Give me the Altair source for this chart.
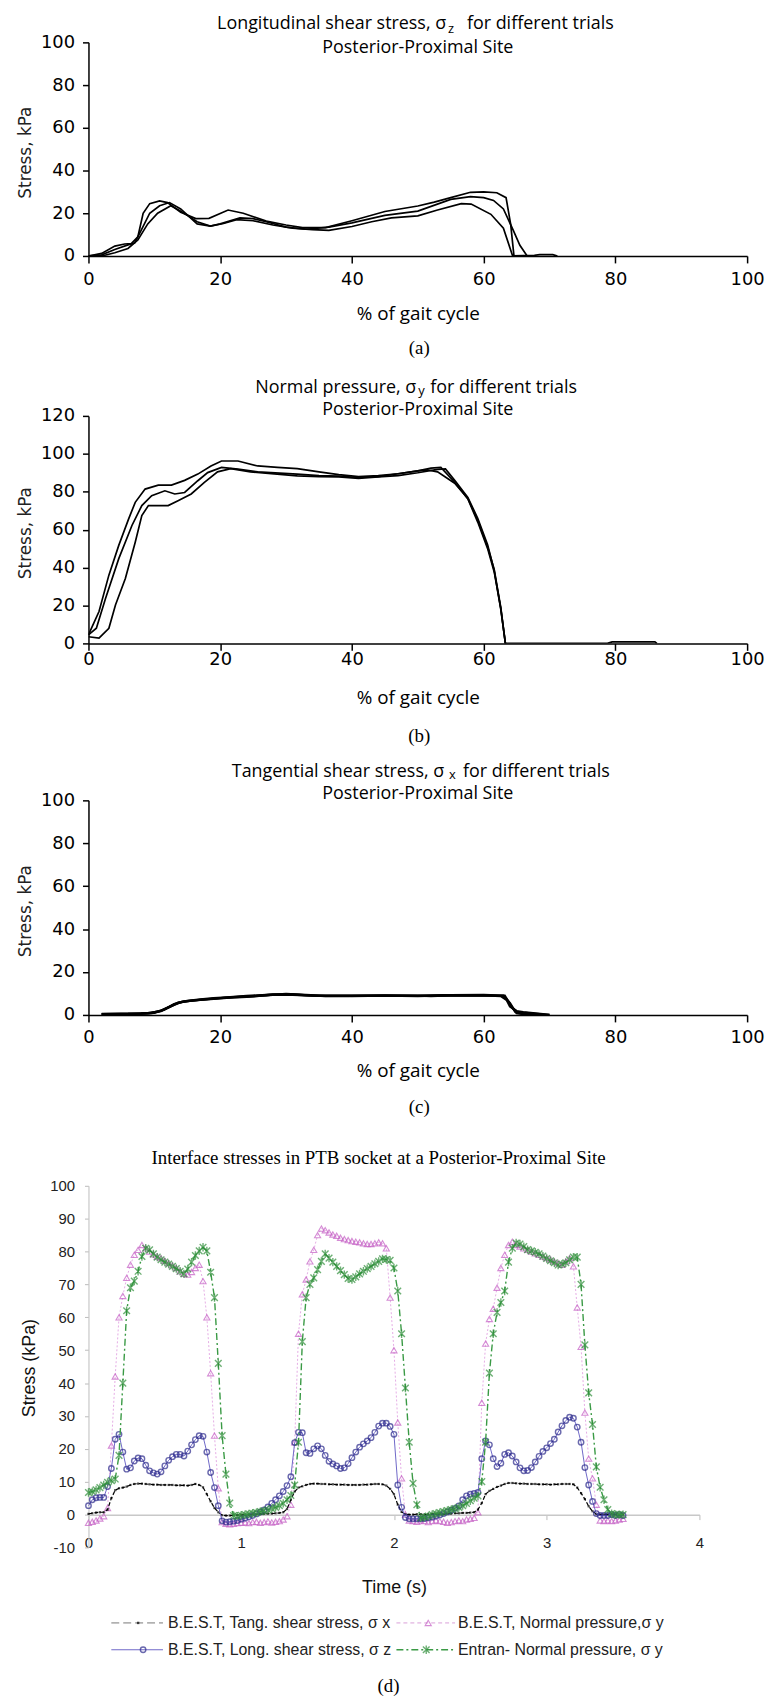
import altair as alt
import numpy as np
import pandas as pd

# ---------------- panel (a): longitudinal shear stress, three trials ----------------
a1_pct = [0, 2, 4, 5.5, 6.5, 7.5, 8.3, 9.3, 10.8, 12, 14, 16.3, 18.3, 21.2, 23.5, 27, 30, 32.5, 36, 40,
          45, 50, 52.5, 55, 58, 60, 62, 63.4, 64.1, 64.6]
a1_kpa = [0, 1.2, 4.6, 5.6, 5.8, 9, 20, 24.5, 25.8, 25, 20.5, 17.5, 17.6, 21.5, 20, 16.3, 14.5, 13.3, 13.3, 16.5,
          20.8, 23.4, 25.2, 27.3, 29.8, 30, 29.6, 27.3, 14.9, 0]
a2_pct = [0, 2, 4, 6, 7, 8, 9.3, 10.8, 12.3, 14, 16.5, 18.5, 20, 23, 25, 27, 30, 33, 36.5, 40,
          45, 50, 55, 58, 60, 61.5, 63, 64.5, 65.5, 66.6]
a2_kpa = [0, 0.5, 3, 5.2, 6, 12, 20, 23.5, 25, 22, 15, 14, 15, 17.8, 17.5, 16, 13.5, 12.5, 13.5, 15.5,
          19, 21, 26.5, 27.8, 27.3, 26, 22, 12, 5, 0]
a3_pct = [0, 2, 4, 6, 7.5, 9, 10.5, 12.5, 14, 16.5, 18.5, 20.5, 22.5, 25, 28, 31, 34, 36.5, 40, 43,
          46, 50, 53, 56.6, 58.1, 61.1, 63, 64.4, 67.7, 68.5, 70.5, 71.2]
a3_kpa = [0, 0, 1.5, 3.5, 7.5, 15, 20, 23.5, 21, 16, 14, 15.2, 17, 16.5, 14.5, 13, 12.3, 12, 13.8, 16,
          17.8, 18.8, 21.5, 24.5, 24.3, 19.5, 13, 0, 0.3, 0.6, 0.6, 0]

# ---------------- panel (b): normal pressure, three trials ----------------
b1_pct = [0, 1.6, 3.1, 4.6, 6.1, 7.1, 8.6, 10.6, 12.6, 14.6, 16.6, 18.6, 20.2, 22.7, 25.7, 28.7, 31.7, 35, 38, 41,
          44, 47, 50, 52, 53.5, 55.6, 57.6, 59.1, 60.6, 61.6, 62.6, 63.3]
b1_kpa = [4.5, 16.8, 36, 51.7, 65.7, 74.4, 81.4, 83.5, 83.5, 86, 89.3, 93.6, 96.2, 96.2, 93.6, 92.8, 92.2, 90.5, 89, 88,
          88.5, 89.5, 91, 92.5, 92.8, 85, 76.2, 64, 50, 37.7, 18.5, 0]
b2_pct = [0, 1.2, 2.6, 4.6, 6.6, 8.1, 9.6, 11.6, 13.1, 14.6, 16.6, 18.1, 20.2, 22.7, 25.7, 31.7, 35, 38, 41, 44,
          47, 50, 51.5, 53, 55.6, 57.6, 59.1, 60.6, 61.6, 62.6, 63.3]
b2_kpa = [4.5, 8, 23.8, 44.7, 62.2, 72.7, 77.9, 80.5, 78.8, 79.6, 85.8, 90.1, 92.8, 91.9, 90.5, 89.3, 88.5, 88.3, 87.5, 88,
          89.5, 91, 91.5, 90.5, 84.5, 76.5, 65, 51, 39, 19, 0]
b3_pct = [0, 1.6, 3.1, 4.1, 5.6, 7.1, 8.1, 9.1, 12.1, 13.6, 15.6, 17.6, 19.6, 21.6, 24.6, 31.7, 35, 38, 41, 44,
          47, 50, 53, 54.2, 55.6, 57.6, 59.1, 60.6, 61.6, 62.6, 63.3, 78.8, 79.5, 86, 86.3]
b3_kpa = [3.5, 2.8, 8, 20.3, 34.2, 53.4, 67.4, 72.7, 72.7, 75.3, 78.8, 84.9, 90.5, 92.2, 90.5, 88.4, 88, 87.8, 87, 87.8,
          88.5, 90, 91.8, 92, 86, 77, 66, 52, 38.5, 18, 0, 0, 0.8, 0.8, 0]

# ---------------- panel (c): tangential shear stress, three trials ----------------
c1_pct = [2, 5, 8, 9.6, 11, 12.5, 13.6, 15, 17, 19, 21, 24, 27, 29, 31, 34, 40, 45, 50, 52,
          55, 60, 62.6, 63.5, 64, 65, 66, 67.5, 69, 70]
c1_kpa = [0.5, 0.6, 0.7, 0.9, 2, 4, 5.7, 6.5, 7.2, 7.8, 8.2, 8.8, 9.3, 9.6, 9.5, 9, 9, 9, 9, 8.8,
          9.1, 9.1, 8.8, 7, 4, 1.8, 1.3, 0.8, 0.3, 0]
c2_pct = [2, 5, 8, 10, 11.5, 13, 14.5, 17, 19, 21, 24, 27, 30, 33, 36, 40, 45, 50, 55, 60,
          63, 64, 64.8, 66, 68, 70]
c2_kpa = [0.3, 0.5, 0.6, 1, 2.5, 5, 6.3, 7, 7.5, 8, 8.5, 9.2, 9.8, 9.3, 8.8, 8.9, 9.1, 8.9, 9.2, 9.3,
          9.0, 5.5, 1.5, 1, 0.5, 0]
c3_pct = [2, 6, 9, 11, 12.8, 14, 16, 19, 22, 25, 28, 31, 35, 40, 45, 50, 54, 60, 63.2, 64.2,
          65, 66.5, 68]
c3_kpa = [0.4, 0.5, 0.8, 1.8, 4.5, 6, 6.8, 7.6, 8.3, 8.7, 9.5, 9.4, 8.9, 8.8, 9, 8.8, 9.2, 9.0, 9.0, 4,
          0.8, 0.2, 0]

# ---------------- panel (d): interface stresses vs time (sampled every 0.025 s) ----------------
d_time = np.round(np.arange(141) * 0.025, 3)
d_tang_x = [0.2, 0.4, 0.6, 0.7, 0.7, 1.5, 5, 7.4, 8, 8.2, 8.5, 9, 9.3, 9.4, 9.4, 9.3, 9.2, 9.1, 9.1, 9.0,
            9.0, 9.0, 9.0, 8.9, 8.9, 8.9, 8.8, 9.0, 9.3, 9.0, 8.3, 6.2, 4, 2, 0.7, -0.2, -0.3, -0.3, -0.2, -0.2,
            -0.1, 0, 0, 0.1, 0.1, 0.2, 0.2, 0.3, 0.3, 0.4, 0.5, 0.7, 1.7, 4.5, 7, 8.2, 8.6, 9.0, 9.3, 9.4,
            9.4, 9.3, 9.3, 9.2, 9.2, 9.1, 9.1, 9.1, 9.0, 9.0, 9.0, 9.0, 9.1, 9.1, 9.2, 9.3, 9.3, 9.2, 8.8, 7.8,
            6.2, 3, 0.8, 0.1, 0, 0, 0.1, 0.1, 0, 0.1, 0.2, 0.2, 0.1, 0.2, 0.3, 0.3, 0.4, 0.4, 0.5, 0.5,
            0.6, 0.7, 1.5, 3.5, 6.2, 7.2, 7.8, 8.4, 8.8, 9.3, 9.6, 9.6, 9.5, 9.4, 9.4, 9.3, 9.3, 9.3, 9.2, 9.2,
            9.2, 9.1, 9.2, 9.2, 9.3, 9.3, 9.3, 9.2, 8.2, 6.5, 4.7, 2.5, 1, 0.2, 0, 0, 0, 0.1, 0, 0, 0]
d_norm_y = [-2.5, -2.2, -1.8, -1.2, -0.5, 2, 21, 42, 60, 66.5, 72, 76, 79, 80.5, 82, 81, 80, 79.2, 78.5, 78,
            77.2, 76.5, 75.8, 75, 74, 73.2, 73, 73.8, 75, 76, 71, 60, 43, 24, 8, -2.3, -2.8, -3, -2.8, -2.6,
            -2.5, -2.4, -2.6, -2.3, -2.2, -2.5, -2.3, -2.1, -2.4, -2.2, -2, -1.5, -0.5, 3, 22, 55, 67, 71.5, 77, 80.5,
            85, 87, 86.5, 85.8, 85.2, 84.8, 84.2, 83.8, 83.5, 83.2, 83, 82.8, 82.5, 82.3, 82.3, 82.5, 82.8, 82.5, 81, 66,
            50, 28, 11, 0, -1.8, -2, -2.2, -1.8, -2, -2.3, -2, -1.8, -2, -2.2, -2.5, -2.3, -2, -1.8, -2, -1.5,
            -1.3, -1, 0.7, 34, 52, 59.5, 62.6, 69, 75, 79, 82, 83, 82, 81.5, 81, 80.5, 80, 79.5, 79, 78.5,
            78, 77.6, 77, 76.5, 76, 77, 78, 75.5, 63, 51, 31, 17, 11, 3, -1.8, -2, -1.8, -2, -1.8, -1.5, -1.3]
d_long_z = [2.7, 4.5, 5.1, 5.2, 5.2, 8.5, 14, 22.9, 24.4, 19, 13.8, 14.2, 16.3, 17.2, 17, 15, 13.3, 12.7, 12.3, 13,
            14.8, 16.5, 17.6, 18.3, 18.3, 17.8, 19.3, 21.2, 22.8, 24, 23.8, 19, 12.8, 8.2, 2.7, -1.9, -2.3, -2.2, -2, -1.8,
            -1.4, -1.1, -0.7, -0.3, 0.2, 0.8, 1.4, 2.3, 3.4, 4.5, 5.7, 7, 8.8, 11.5, 21.9, 25, 24.9, 18.8, 18.6, 20,
            20.9, 20, 18, 16.2, 15.4, 14.8, 14, 14.2, 15.5, 17.3, 19, 20.5, 21.5, 22.4, 23.4, 25, 26.9, 27.8, 27.8, 26.8,
            24.4, 9, 2.2, -0.9, -1.3, -1.3, -1.3, -1.3, -1.2, -1, -0.8, -0.5, -0.1, 0.3, 0.8, 1.3, 1.9, 2.6, 4.5, 5.7,
            6.2, 6.4, 6.7, 17, 22.4, 21.2, 17, 14.6, 15.6, 18.3, 18.8, 17.8, 16, 14.2, 13.3, 13.4, 14.3, 16, 17.7, 19.2,
            20.3, 21.6, 22.9, 25.1, 27, 28.6, 29.6, 29.3, 26.6, 22, 14.3, 9, 4, 0.3, -0.3, -0.3, -0.3, 0, -0.3, 0, -0.3]
d_entran_y = [6.7, 7.0, 7.5, 8.2, 9.0, 9.8, 10.3, 10.8, 18, 40, 62, 69, 71, 74, 78.5, 81, 80.5, 79.3, 78.3, 77.5,
              76.8, 76.2, 75.5, 74.8, 74, 73.2, 74.7, 76.8, 78.8, 80.2, 81.3, 80.2, 73.7, 66, 46, 24, 12.3, 3.5, -0.3, -0.5,
              -0.2, 0, 0.2, 0.4, 0.6, 0.9, 1.1, 1.4, 1.8, 2.2, 2.7, 3.4, 4.5, 5.8, 9, 22, 52.6, 66, 70, 72,
              74.5, 77, 79.3, 78, 76.8, 75.5, 74.2, 73, 71.8, 71.5, 72.3, 73.2, 74, 74.8, 75.5, 76.3, 77, 77.8, 77.6, 77.3,
              75, 68, 55, 38.5, 22, 9.5, 3, -1, -0.8, -0.5, 0, 0.3, 0.6, 0.9, 1.2, 1.5, 1.8, 2.2, 2.7, 3.4,
              4.2, 5, 5.7, 10, 22, 43, 55, 61.5, 64.5, 68, 76.8, 81, 82.6, 82.3, 81.5, 80.6, 80.2, 79.8, 79.3, 78.6,
              77.9, 77.2, 76.6, 75.9, 76.2, 76.6, 77.5, 78.3, 78.3, 70, 51.6, 37, 27.4, 14.5, 8.3, 4.5, 1.5, 0.3, 0, 0, 0]

legend_labels = ["B.E.S.T, Tang. shear stress, \u03c3 x", "B.E.S.T, Normal pressure,\u03c3 y",
                 "B.E.S.T, Long. shear stress, \u03c3 z", "Entran- Normal pressure, \u03c3 y"]

# ---------------- styling ----------------
F_TITLE = "Open Sans"
F_NUM = "DejaVu Sans"
F_ARIAL = "Liberation Sans"
F_TIMES = "Liberation Serif"
W_AC = 663
ASTERISK = "M-1,-1L1,1M-1,1L1,-1M0,-1.25L0,1.25"
TS = 18      # panel title font size
SUB = 13     # subscript font size


def txt(s, x, y, size, font, align="center", color="black"):
    return alt.Chart(pd.DataFrame({"k": [0]})).mark_text(
        text=s, align=align, baseline="middle", font=font, fontSize=size, color=color
    ).encode(x=alt.value(x), y=alt.value(y))


def trials_df(*series):
    frames = []
    for i, (xs, ys) in enumerate(series):
        frames.append(pd.DataFrame({"pct": xs, "kpa": ys, "trial": f"T{i + 1}"}))
    return pd.concat(frames, ignore_index=True)


def x_axis_ac(title_y, label_pad):
    return alt.Axis(values=[0, 20, 40, 60, 80, 100], title="% of gait cycle", titleFont=F_TITLE,
                    titleFontSize=19, titleFontWeight="normal", titleColor="black", titleX=W_AC / 2,
                    titleY=title_y, titleBaseline="middle", labelFont=F_NUM, labelFontSize=18,
                    labelColor="black", labelPadding=label_pad, labelFlush=False, labelOverlap=False,
                    tickSize=7, tickWidth=1.5, tickColor="black", domainColor="black", domainWidth=1.5,
                    grid=False)


def y_axis_ac(vals, h):
    return alt.Axis(values=vals, title="Stress, kPa", titleFont=F_NUM, titleFontSize=17,
                    titleFontWeight="normal", titleColor="#222", titleX=-63, titleY=h / 2 + 3,
                    titleBaseline="middle", labelFont=F_NUM, labelFontSize=18, labelColor="black",
                    labelPadding=8, tickSize=6, tickWidth=1.5, tickColor="black", domainColor="black",
                    domainWidth=1.5, grid=False)


def panel_ac(df, ymax, yvals, h, title_y, label_pad, colors, width):
    return alt.Chart(df).mark_line(strokeWidth=width, clip=True).encode(
        x=alt.X("pct:Q", scale=alt.Scale(domain=[0, 100], nice=False), axis=x_axis_ac(title_y, label_pad)),
        y=alt.Y("kpa:Q", scale=alt.Scale(domain=[0, ymax], nice=False), axis=y_axis_ac(yvals, h)),
        color=alt.Color("trial:N", scale=alt.Scale(domain=["T1", "T2", "T3"], range=colors), legend=None),
        detail="trial:N",
    ).properties(width=W_AC, height=h)


# panel (a)
H_A = 215
pa_lines = panel_ac(trials_df((a1_pct, a1_kpa), (a2_pct, a2_kpa), (a3_pct, a3_kpa)), 100,
                    [0, 20, 40, 60, 80, 100], H_A, 58, 8, ["black", "black", "black"], 1.7)
pa = alt.layer(
    pa_lines,
    txt("Longitudinal shear stress, \u03c3", 360, -18, TS, F_TITLE, align="right"),
    txt("z", 362, -13, SUB, F_TITLE, align="left"),
    txt("for different trials", 381, -18, TS, F_TITLE, align="left"),
    txt("Posterior-Proximal Site", W_AC / 2, 6, TS, F_TITLE),
    txt("(a)", 333, H_A + 93, 19, F_TIMES),
)

# panel (b)
H_B = 229
pb_lines = panel_ac(trials_df((b1_pct, b1_kpa), (b2_pct, b2_kpa), (b3_pct, b3_kpa)), 120,
                    [0, 20, 40, 60, 80, 100, 120], H_B, 55, 0, ["black", "black", "black"], 1.7)
pb = alt.layer(
    pb_lines,
    txt("Normal pressure, \u03c3", 330, -28.5, TS, F_TITLE, align="right"),
    txt("y", 332, -25, SUB, F_TITLE, align="left"),
    txt("for different trials", 344, -28.5, TS, F_TITLE, align="left"),
    txt("Posterior-Proximal Site", W_AC / 2, -6, TS, F_TITLE),
    txt("(b)", 333, H_B + 93, 19, F_TIMES),
)

# panel (c)
H_C = 216
pc_lines = panel_ac(trials_df((c1_pct, c1_kpa), (c2_pct, c2_kpa), (c3_pct, c3_kpa)), 100,
                    [0, 20, 40, 60, 80, 100], H_C, 56, 7, ["black", "#111", "#2b2b80"], 2.4)
pc = alt.layer(
    pc_lines,
    txt("Tangential shear stress, \u03c3", 358, -29, TS, F_TITLE, align="right"),
    txt("x", 363, -26, SUB, F_TITLE, align="left"),
    txt("for different trials", 377, -29, TS, F_TITLE, align="left"),
    txt("Posterior-Proximal Site", W_AC / 2, -6, TS, F_TITLE),
    txt("(c)", 333, H_C + 93, 19, F_TIMES),
)

# panel (d)
W_D = 615
H_D = 364
dd = pd.DataFrame({"t": d_time, "sx": d_tang_x, "sy": d_norm_y, "sz": d_long_z, "sye": d_entran_y})
dlong = dd.melt(id_vars="t", var_name="series", value_name="value")

x_axis_d = alt.Axis(values=[0, 1, 2, 3, 4], title="Time (s)", titleFont=F_ARIAL, titleFontSize=18,
                    titleFontWeight="normal", titleColor="#111", titleX=W_D / 2, titleY=73,
                    titleBaseline="middle", labelFont=F_ARIAL, labelFontSize=15, labelColor="#222",
                    labelPadding=16, labelFlush=False, tickSize=5, tickColor="#bbb", tickWidth=1,
                    domainColor="#c8c8c8", domainWidth=1.5, grid=False, offset=-33)
y_axis_d = alt.Axis(values=list(range(-10, 101, 10)), title="Stress (kPa)", titleFont=F_ARIAL,
                    titleFontSize=18, titleFontWeight="normal", titleColor="#111", titleX=-59,
                    titleY=H_D / 2 + 1, titleBaseline="middle", labelFont=F_ARIAL, labelFontSize=15,
                    labelColor="#222", labelPadding=10, tickSize=4, tickColor="#bbb",
                    domainColor="#c8c8c8", domainWidth=1.2, grid=False, labelExpr="'' + datum.value")
XD = alt.X("t:Q", scale=alt.Scale(domain=[0, 4], nice=False), axis=x_axis_d)
YD = alt.Y("value:Q", scale=alt.Scale(domain=[-10, 100], nice=False), axis=y_axis_d)


def series_base(name):
    return alt.Chart(dlong).transform_filter(alt.datum.series == name)


d_layers = [
    series_base("sy").mark_line(color="#e2a3e2", strokeWidth=0.9, strokeDash=[2, 2]).encode(x=XD, y=YD),
    series_base("sy").mark_point(shape="triangle-up", filled=False, color="#c45cc4", strokeWidth=1.1,
                                 size=38).encode(x=XD, y=YD),
    series_base("sx").mark_line(color="black", strokeWidth=1.2, strokeDash=[4, 2]).encode(x=XD, y=YD),
    series_base("sx").mark_point(shape="square", filled=True, color="black", size=5).encode(x=XD, y=YD),
    series_base("sz").mark_line(color="#6f68c8", strokeWidth=1).encode(x=XD, y=YD),
    series_base("sz").mark_point(shape="circle", filled=False, color="#2c2a8c", strokeWidth=1.4,
                                 size=30).encode(x=XD, y=YD),
    series_base("sye").mark_line(color="#3a9a45", strokeWidth=1.4, strokeDash=[7, 3, 2, 3]).encode(x=XD, y=YD),
    series_base("sye").mark_point(shape=ASTERISK, filled=False, color="#2f8f3a", strokeWidth=1.4,
                                  size=45).encode(x=XD, y=YD),
]


def one():
    return alt.Chart(pd.DataFrame({"k": [0]}))


LR1, LR2 = 440, 467
legend_layers = [
    one().mark_rule(color="#777", strokeWidth=1, strokeDash=[8, 4]).encode(
        x=alt.value(23), x2=alt.value(75), y=alt.value(LR1)),
    one().mark_point(shape="square", filled=True, color="black", size=6).encode(
        x=alt.value(50), y=alt.value(LR1)),
    txt(legend_labels[0], 80, LR1, 16, F_ARIAL, align="left", color="#222"),
    one().mark_rule(color="#d9a0d9", strokeWidth=1, strokeDash=[4, 3]).encode(
        x=alt.value(310), x2=alt.value(369), y=alt.value(LR1)),
    one().mark_point(shape="triangle-up", filled=False, color="#c45cc4", strokeWidth=1.1, size=38).encode(
        x=alt.value(342), y=alt.value(LR1)),
    txt(legend_labels[1], 372, LR1, 16, F_ARIAL, align="left", color="#222"),
    one().mark_rule(color="#6f68c8", strokeWidth=1.2).encode(
        x=alt.value(23), x2=alt.value(75), y=alt.value(LR2)),
    one().mark_point(shape="circle", filled=False, color="#2c2a8c", strokeWidth=1.4, size=30).encode(
        x=alt.value(55), y=alt.value(LR2)),
    txt(legend_labels[2], 80, LR2, 16, F_ARIAL, align="left", color="#222"),
    one().mark_rule(color="#3a9a45", strokeWidth=1.4, strokeDash=[7, 3, 2, 3]).encode(
        x=alt.value(310), x2=alt.value(369), y=alt.value(LR2)),
    one().mark_point(shape=ASTERISK, filled=False, color="#2f8f3a", strokeWidth=1.4, size=45).encode(
        x=alt.value(340), y=alt.value(LR2)),
    txt(legend_labels[3], 372, LR2, 16, F_ARIAL, align="left", color="#222"),
]

pd_chart = alt.layer(
    *d_layers,
    txt("Interface stresses in PTB socket at a Posterior-Proximal Site", 292, -28, 19, F_TIMES),
    *legend_layers,
    txt("(d)", 302, 504, 19, F_TIMES),
).properties(width=W_D, height=H_D)


def spacer(h):
    return one().mark_point(opacity=0).encode(x=alt.value(0), y=alt.value(0)).properties(width=W_AC, height=h)


chart = alt.vconcat(
    pa, spacer(161), pb, spacer(158), pc, spacer(172), pd_chart,
    spacing=0, bounds="flush",
).properties(
    padding={"left": 9, "top": 2, "right": 0, "bottom": 0}
).configure_view(strokeWidth=0)

chart.save("out.html", embed_options={"renderer": "svg", "actions": False})
